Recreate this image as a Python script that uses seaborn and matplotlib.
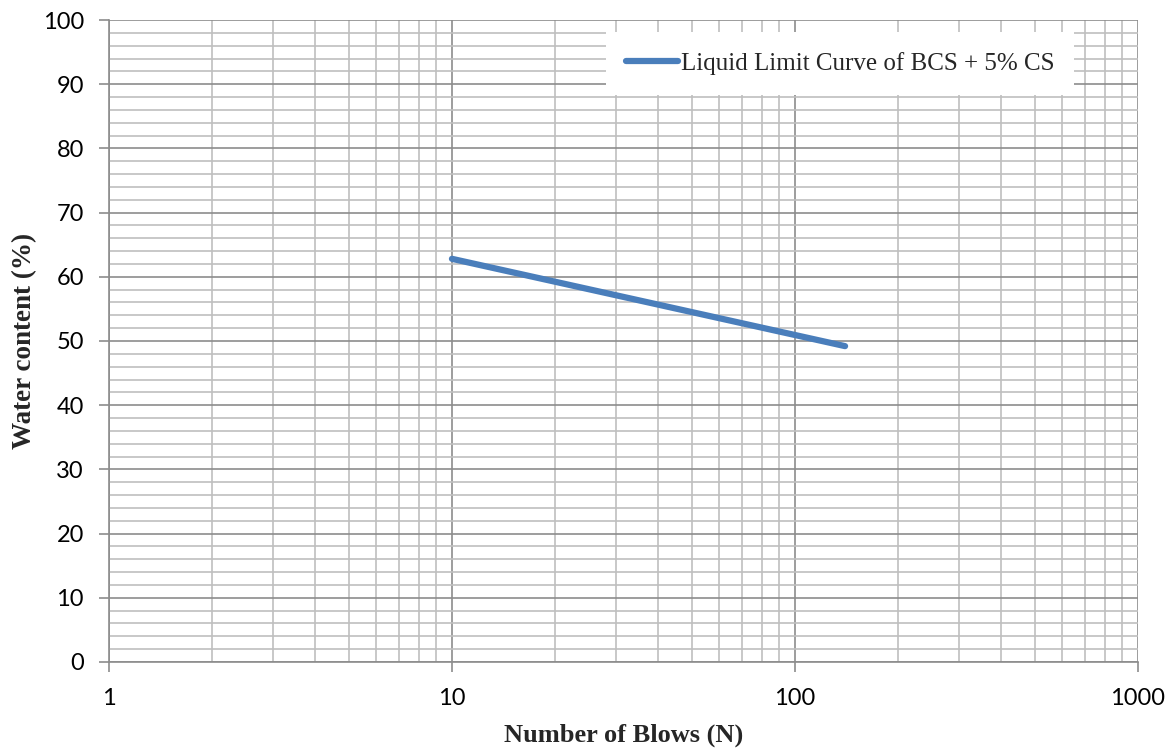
import matplotlib
matplotlib.use("Agg")
import matplotlib.pyplot as plt
import seaborn as sns
import pandas as pd
from matplotlib.ticker import FixedLocator, NullFormatter

# values
blows = [10, 140]
water_content = [62.8, 49.2]
series_name = "Liquid Limit Curve of BCS + 5% CS"

df = pd.DataFrame({"N": blows, "w": water_content, "s": series_name})

sns.set_style("white")
plt.rcParams["font.family"] = ["Lato", "DejaVu Sans"]

fig = plt.figure(figsize=(11.74, 7.52), dpi=100)
ax = fig.add_axes([0.0928, 0.1197, 0.8765, 0.8537])

sns.lineplot(data=df, x="N", y="w", hue="s", palette=["#4a7ebb"], linewidth=4.5,
             solid_capstyle="round", ax=ax)

ax.set_xscale("log")
ax.set_xlim(1, 1000)
ax.set_ylim(0, 100)

ax.xaxis.set_major_locator(FixedLocator([1, 10, 100, 1000]))
ax.set_xticklabels(["1", "10", "100", "1000"])
minor_x = [m * d for d in (1, 10, 100) for m in range(2, 10)]
ax.xaxis.set_minor_locator(FixedLocator(minor_x))
ax.xaxis.set_minor_formatter(NullFormatter())
ax.set_yticks(range(0, 101, 10))
ax.yaxis.set_minor_locator(FixedLocator([v for v in range(0, 101, 2) if v % 10]))

ax.grid(which="major", color="#8c8c8c", linewidth=1.2)
ax.grid(which="minor", color="#bfbfbf", linewidth=1.2)
ax.set_axisbelow(True)

for side in ("top", "right"):
    ax.spines[side].set_visible(False)
for side in ("left", "bottom"):
    ax.spines[side].set_color("#8c8c8c")
    ax.spines[side].set_linewidth(1.2)

ax.tick_params(which="major", direction="out", length=7, width=1.2, color="#8c8c8c",
               labelsize=17, labelcolor="black", bottom=True, left=True)
ax.tick_params(axis="y", which="major", pad=11)
ax.tick_params(axis="x", which="major", pad=12)
ax.tick_params(which="minor", length=0)

ax.set_xlabel("Number of Blows (N)", family=["Liberation Serif"], fontweight="bold",
              fontsize=19, labelpad=10)
ax.set_ylabel("Water content (%)", family=["Liberation Serif"], fontweight="bold",
              fontsize=19.5, labelpad=4)

leg = ax.legend(loc="upper right", bbox_to_anchor=(0.938, 0.981), borderaxespad=0,
                frameon=True, fancybox=False, edgecolor="white", framealpha=1,
                prop={"family": "Liberation Serif", "size": 18},
                handlelength=2.1, handletextpad=0.1, borderpad=0.8)
leg.get_frame().set_linewidth(0)

fig.savefig("out.png", dpi=100)
